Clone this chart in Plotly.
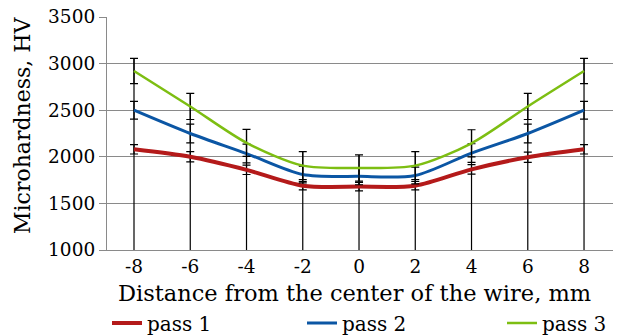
import plotly.graph_objects as go

distance = [-8, -6, -4, -2, 0, 2, 4, 6, 8]
pass1 = [2080, 2000, 1860, 1690, 1680, 1690, 1865, 1995, 2080]
pass2 = [2500, 2250, 2035, 1810, 1790, 1800, 2040, 2250, 2500]
pass3 = [2920, 2540, 2150, 1905, 1880, 1905, 2145, 2540, 2920]
err1 = [50, 55, 50, 45, 45, 45, 50, 55, 50]
err2 = [95, 100, 100, 90, 90, 90, 100, 100, 95]
err3 = [135, 140, 145, 150, 140, 150, 145, 140, 135]
y_ticks = [1000, 1500, 2000, 2500, 3000, 3500]
x_ticks = [-8, -6, -4, -2, 0, 2, 4, 6, 8]
y_floor = 1000

font_family = "DejaVu Serif"
W, H = 619, 336
L, R, T, B = 107, 6, 17, 86

fig = go.Figure()

# vertical drop lines from the axis floor up to the highest error cap
drop_x, drop_y = [], []
for x, v, e in zip(distance, pass3, err3):
    drop_x += [x, x, None]
    drop_y += [y_floor, v + e, None]
fig.add_trace(go.Scatter(x=drop_x, y=drop_y, mode="lines",
                         line=dict(color="black", width=1.2),
                         showlegend=False, hoverinfo="skip"))

series = [("pass 1", pass1, err1, "#B41A1A", 4, "legend", 107),
          ("pass 2", pass2, err2, "#0B56A4", 3, "legend2", 302),
          ("pass 3", pass3, err3, "#7DBE12", 2.5, "legend3", 502)]
legends = {}
for name, vals, err, color, w, lg, lx in series:
    fig.add_trace(go.Scatter(
        x=distance, y=vals, name=name, mode="lines", legend=lg,
        line=dict(color=color, width=w, shape="spline", smoothing=0.8),
        error_y=dict(type="data", array=err, visible=True,
                     color="black", thickness=1.2, width=4),
    ))
    legends[lg] = dict(orientation="h", xref="container", yref="container",
                       x=lx / W, xanchor="left", y=13 / H, yanchor="middle",
                       font=dict(family=font_family, size=20),
                       bgcolor="rgba(0,0,0,0)")

plot_h = H - T - B
plot_w = W - L - R
fig.update_layout(
    width=W, height=H,
    margin=dict(l=L, r=R, t=T, b=B, autoexpand=False),
    paper_bgcolor="white", plot_bgcolor="white",
    font=dict(family=font_family, size=18, color="black"),
    showlegend=True,
    **legends,
    annotations=[
        dict(text="Distance from the center of the wire, mm", xref="paper", yref="paper",
             x=0.49, y=(H - B - 293) / plot_h, xanchor="center", yanchor="middle",
             showarrow=False, font=dict(size=22.5)),
        dict(text="Microhardness, HV", xref="paper", yref="paper", textangle=-90,
             x=(22 - L) / plot_w, y=(H - B - 126) / plot_h, xanchor="center", yanchor="middle",
             showarrow=False, font=dict(size=22)),
    ],
)
fig.update_xaxes(range=[-8.96, 9.03], tickvals=x_ticks,
                 ticktext=[str(t) for t in x_ticks],
                 showgrid=False, zeroline=False, automargin=False,
                 showline=True, linecolor="#8a8a8a", linewidth=1.2,
                 ticks="", tickfont=dict(size=18.5))
fig.update_yaxes(range=[1000, 3500], tickvals=y_ticks,
                 showgrid=True, gridcolor="#8a8a8a", gridwidth=1.2,
                 zeroline=False, showline=True, linecolor="#8a8a8a", linewidth=1.2,
                 automargin=False,
                 ticks="outside", ticklen=7, tickcolor="#8a8a8a", tickwidth=1.2,
                 tickfont=dict(size=18.5))

fig.write_html("out.html", config={"displayModeBar": False},
               post_script="document.body.style.margin='0';document.body.style.padding='0';")
